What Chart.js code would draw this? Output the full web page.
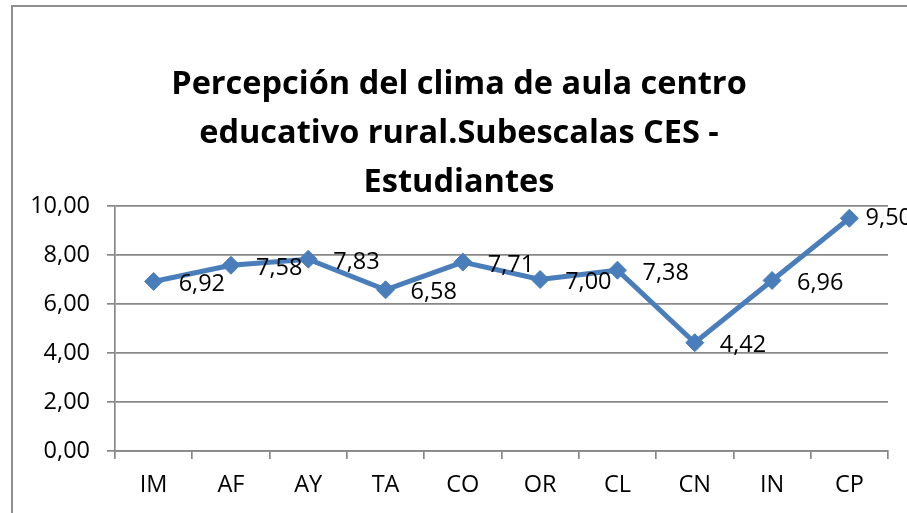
<!DOCTYPE html>
<html>
<head>
<meta charset="utf-8">
<script src="https://cdn.jsdelivr.net/npm/chart.js@4"></script>
<style>
  html, body { margin: 0; padding: 0; background: #fff; overflow: hidden; }
  #wrap { position: relative; width: 907px; height: 513px; }
  #frame { position: absolute; left: 11px; top: 5px; width: 920px; height: 540px; border: 2px solid #8e8e8e; box-sizing: border-box; }
  canvas { position: absolute; left: 0; top: 0; }
</style>
</head>
<body>
<div id="wrap">
  <div id="frame"></div>
  <canvas id="climaChart" width="907" height="513"></canvas>
</div>
<script>
const titleLines = ['Percepción del clima de aula centro', 'educativo rural.Subescalas CES -', 'Estudiantes'];
const categories = ['IM', 'AF', 'AY', 'TA', 'CO', 'OR', 'CL', 'CN', 'IN', 'CP'];
const puntajes = [6.92, 7.58, 7.83, 6.58, 7.71, 7.00, 7.38, 4.42, 6.96, 9.50];

const FONT = '"Open Sans", "Liberation Sans", sans-serif';
const fmt = v => v.toFixed(2).replace('.', ',');

// title and value labels drawn by hand, like the Excel original
const labelsPlugin = {
    id: 'labelsPlugin',
    afterDraw(chart) {
        const ctx = chart.ctx;
        ctx.save();
        ctx.fillStyle = '#000';
        ctx.textAlign = 'center';
        ctx.textBaseline = 'alphabetic';
        ctx.font = 'bold 32.5px ' + FONT;
        titleLines.forEach((t, i) => ctx.fillText(t, 459, 94 + i * 49));

        ctx.font = '23.5px ' + FONT;
        ctx.textAlign = 'left';
        ctx.textBaseline = 'middle';
        chart.getDatasetMeta(0).data.forEach((pt, i) => {
            const txt = fmt(puntajes[i]);
            // excel pulls the last label back so it (almost) fits
            const x = Math.min(pt.x + 25, 912 - ctx.measureText(txt).width);
            const y = x < pt.x + 25 ? pt.y : pt.y + 3;
            ctx.fillText(txt, x, y);
        });
        ctx.restore();
    }
};

const ctx = document.getElementById('climaChart').getContext('2d');
new Chart(ctx, {
    type: 'line',
    data: {
        labels: categories,
        datasets: [{
            label: 'CES - Estudiantes',
            data: puntajes,
            borderColor: '#4a7ebb',
            backgroundColor: '#4a7ebb',
            borderWidth: 5,
            pointStyle: 'rectRot',
            pointRadius: 9,
            pointBorderWidth: 1,
            tension: 0
        }]
    },
    options: {
        responsive: false,
        animation: false,
        layout: { padding: { left: 0, right: 19, top: 206, bottom: 0 } },
        plugins: {
            legend: { display: false },
            title: { display: false },
            tooltip: { enabled: false }
        },
        scales: {
            x: {
                offset: true,
                grid: {
                    offset: true,
                    drawOnChartArea: false,
                    drawTicks: true,
                    tickLength: 8,
                    color: '#888',
                    lineWidth: 1.7
                },
                border: { color: '#888', width: 1.7 },
                ticks: { color: '#000', font: { family: FONT, size: 23.5 }, padding: 12 },
                afterFit: s => { s.height = 62; }
            },
            y: {
                min: 0,
                max: 10,
                ticks: {
                    stepSize: 2,
                    color: '#000',
                    font: { family: FONT, size: 23.5 },
                    padding: 17,
                    callback: v => fmt(v)
                },
                grid: { color: '#888', lineWidth: 1.7, tickLength: 8 },
                border: { color: '#888', width: 1.7 },
                afterFit: s => { s.width = 115; }
            }
        }
    },
    plugins: [labelsPlugin]
});
</script>
</body>
</html>
